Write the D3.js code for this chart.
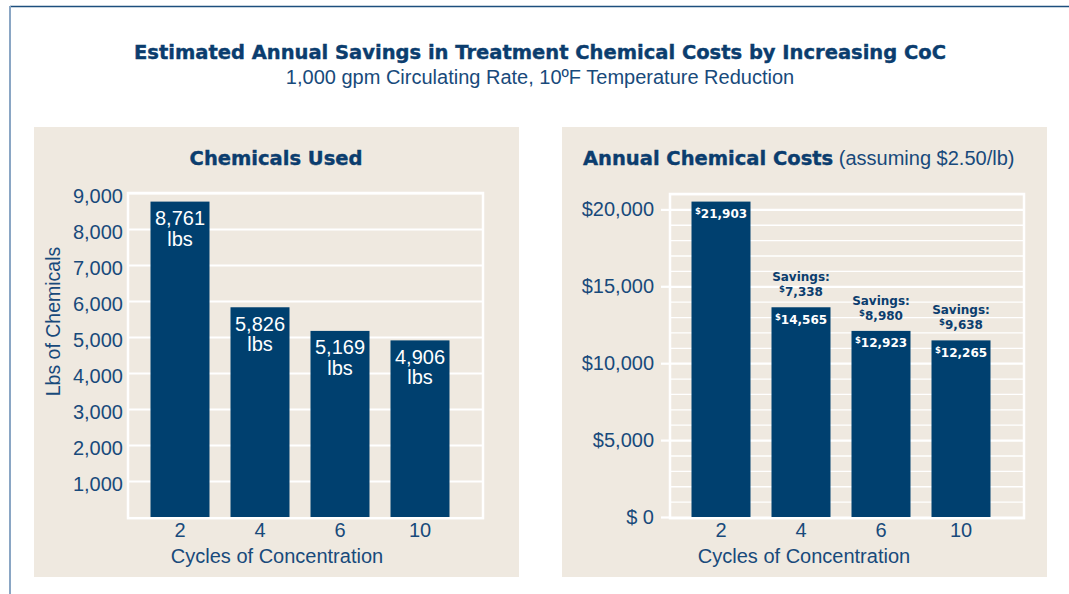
<!DOCTYPE html>
<html>
<head>
<meta charset="utf-8">
<script src="https://cdn.jsdelivr.net/npm/d3@7"></script>
<style>
    body { margin: 0; background: #ffffff; }
    svg { display: block; }
</style>
</head>
<body>
<div class="chartDiv"></div>
<script>
"use strict";

//
/* Data: */
//

var cycles = ["2", "4", "6", "10"];
var lbsUsed = [8761, 5826, 5169, 4906];
var annualCost = [21903, 14565, 12923, 12265];
var savings = [null, 7338, 8980, 9638];

var lbsTicks = [1000, 2000, 3000, 4000, 5000, 6000, 7000, 8000, 9000];
var costMajorTicks = [0, 5000, 10000, 15000, 20000];
var costMinorTicks = [1000, 2000, 3000, 4000, 6000, 7000, 8000, 9000, 11000, 12000, 13000, 14000, 16000, 17000, 18000, 19000, 21000];

var pricePerLb = 2.5;


//
/* Properties: */
//

var width = 1069;
var height = 594;

var navy = "#00406f";
var titleBlue = "#0b3d6e";
var textBlue = "#184a7b";
var panelColor = "#efe9e0";

var boldFont = "'DejaVu Sans', sans-serif";
var plainFont = "'Liberation Sans', Arial, sans-serif";

var plotTop = 193;
var plotBottom = 517;

var svg = d3.select(".chartDiv").append("svg")
                .attr("width", width)
                .attr("height", height);

// outer frame lines
svg.append("line")
    .attr("x1", 10).attr("x2", width).attr("y1", 6.5).attr("y2", 6.5)
    .attr("stroke", "#1d4f7e").attr("stroke-width", 1.5);
svg.append("line")
    .attr("x1", 10).attr("x2", 10).attr("y1", 6).attr("y2", height)
    .attr("stroke", "#8aa6c4").attr("stroke-width", 2);

// heading
svg.append("text")
    .attr("x", 540).attr("y", 58.5)
    .attr("text-anchor", "middle")
    .attr("font-family", boldFont).attr("font-weight", "bold").attr("font-size", 19.5)
    .attr("fill", titleBlue).attr("stroke", titleBlue).attr("stroke-width", 0.4)
    .text("Estimated Annual Savings in Treatment Chemical Costs by Increasing CoC");

svg.append("text")
    .attr("x", 540).attr("y", 83.5)
    .attr("text-anchor", "middle")
    .attr("font-family", plainFont).attr("font-size", 20)
    .attr("fill", textBlue)
    .text("1,000 gpm Circulating Rate, 10ºF Temperature Reduction");

// panels
svg.append("rect").attr("x", 34).attr("y", 127).attr("width", 485).attr("height", 450).attr("fill", panelColor);
svg.append("rect").attr("x", 562).attr("y", 127).attr("width", 485).attr("height", 450).attr("fill", panelColor);


//
/* Left chart: Chemicals Used */
//

var leftFrame = { x0: 128, x1: 483 };

var xLeft = d3.scaleBand()
                .domain(cycles)
                .range([140, 460])
                .paddingInner(0.2625)
                .paddingOuter(0.13125);

var yLbs = d3.scaleLinear()
                .domain([0, 9000])
                .range([plotBottom, plotTop]);

var gLeft = svg.append("g").attr("class", "leftChart");

var leftAxis = gLeft.append("g")
                .attr("transform", "translate(" + leftFrame.x0 + ",0)")
                .call(d3.axisLeft(yLbs)
                        .tickValues(lbsTicks)
                        .tickSize(-(leftFrame.x1 - leftFrame.x0))
                        .tickPadding(5)
                        .tickFormat(d3.format(",")));

leftAxis.select(".domain").remove();
leftAxis.selectAll(".tick line").attr("stroke", "#ffffff").attr("stroke-width", 2);
leftAxis.selectAll(".tick text")
    .attr("dy", "0.45em")
    .attr("fill", textBlue).attr("font-family", plainFont).attr("font-size", 20);

gLeft.append("rect")
    .attr("x", leftFrame.x0).attr("y", plotTop)
    .attr("width", leftFrame.x1 - leftFrame.x0).attr("height", plotBottom + 1.2 - plotTop)
    .attr("fill", "none").attr("stroke", "#ffffff").attr("stroke-width", 2.5);

gLeft.selectAll(".bar")
    .data(lbsUsed).enter()
    .append("rect")
    .attr("class", "bar")
    .attr("x", function(d, i) { return xLeft(cycles[i]); })
    .attr("y", function(d) { return yLbs(d); })
    .attr("width", xLeft.bandwidth())
    .attr("height", function(d) { return yLbs(0) - yLbs(d); })
    .attr("fill", navy);

var leftLabels = gLeft.selectAll(".barLabel")
    .data(lbsUsed).enter()
    .append("text")
    .attr("class", "barLabel")
    .attr("text-anchor", "middle")
    .attr("font-family", plainFont).attr("font-size", 20)
    .attr("fill", "#ffffff");

leftLabels.append("tspan")
    .attr("x", function(d, i) { return xLeft(cycles[i]) + xLeft.bandwidth() / 2; })
    .attr("y", function(d) { return yLbs(d) + 23.5; })
    .text(function(d) { return d3.format(",")(d); });

leftLabels.append("tspan")
    .attr("x", function(d, i) { return xLeft(cycles[i]) + xLeft.bandwidth() / 2; })
    .attr("y", function(d) { return yLbs(d) + 44; })
    .text("lbs");

var leftX = gLeft.append("g")
                .attr("transform", "translate(0," + plotBottom + ")")
                .call(d3.axisBottom(xLeft).tickSize(0).tickPadding(6));

leftX.select(".domain").remove();
leftX.selectAll(".tick text")
    .attr("fill", textBlue).attr("font-family", plainFont).attr("font-size", 20);

gLeft.append("text")
    .attr("x", 277).attr("y", 563)
    .attr("text-anchor", "middle")
    .attr("font-family", plainFont).attr("font-size", 20)
    .attr("fill", textBlue)
    .text("Cycles of Concentration");

gLeft.append("text")
    .attr("transform", "translate(59.5,321.5) rotate(-90)")
    .attr("text-anchor", "middle")
    .attr("font-family", plainFont).attr("font-size", 19.5)
    .attr("fill", textBlue)
    .text("Lbs of Chemicals");

gLeft.append("text")
    .attr("x", 276).attr("y", 164.5)
    .attr("text-anchor", "middle")
    .attr("font-family", boldFont).attr("font-weight", "bold").attr("font-size", 19.5)
    .attr("fill", titleBlue).attr("stroke", titleBlue).attr("stroke-width", 0.4)
    .text("Chemicals Used");


//
/* Right chart: Annual Chemical Costs */
//

var rightFrame = { x0: 670, x1: 1024, top: 194 };

var xRight = d3.scaleBand()
                .domain(cycles)
                .range([681, 1001])
                .paddingInner(0.2625)
                .paddingOuter(0.13125);

// axis scale for the dollar gridlines
var yCost = d3.scaleLinear()
                .domain([0, 21000])
                .range([plotBottom, rightFrame.top]);

// the bars share the pound chart's heights (lbs x $2.50)
var yCostBar = d3.scaleLinear()
                .domain([0, 9000 * pricePerLb])
                .range([plotBottom, plotTop]);

var gRight = svg.append("g").attr("class", "rightChart");
var plotW = rightFrame.x1 - rightFrame.x0;

var minorGrid = gRight.append("g")
                .attr("transform", "translate(" + rightFrame.x0 + ",0)")
                .call(d3.axisLeft(yCost).tickValues(costMinorTicks).tickSize(-plotW).tickFormat(""));
minorGrid.select(".domain").remove();
minorGrid.selectAll(".tick line").attr("stroke", "#ffffff").attr("stroke-width", 1.3);

var majorGrid = gRight.append("g")
                .attr("transform", "translate(" + rightFrame.x0 + ",0)")
                .call(d3.axisLeft(yCost).tickValues(costMajorTicks).tickSize(-plotW).tickFormat(""));
majorGrid.select(".domain").remove();
majorGrid.selectAll(".tick line").attr("stroke", "#ffffff").attr("stroke-width", 2.2);

var costAxis = gRight.append("g")
                .attr("transform", "translate(" + rightFrame.x0 + ",0)")
                .call(d3.axisLeft(yCost)
                        .tickValues(costMajorTicks)
                        .tickSize(9)
                        .tickPadding(7)
                        .tickFormat(function(d) { return d === 0 ? "$ 0" : "$" + d3.format(",")(d); }));
costAxis.select(".domain").remove();
costAxis.selectAll(".tick line").attr("stroke", "#ffffff").attr("stroke-width", 2.2);
costAxis.selectAll(".tick text")
    .attr("fill", textBlue).attr("font-family", plainFont).attr("font-size", 20);

gRight.append("rect")
    .attr("x", rightFrame.x0).attr("y", rightFrame.top)
    .attr("width", plotW).attr("height", plotBottom + 1.2 - rightFrame.top)
    .attr("fill", "none").attr("stroke", "#ffffff").attr("stroke-width", 2.5);

gRight.selectAll(".bar")
    .data(annualCost).enter()
    .append("rect")
    .attr("class", "bar")
    .attr("x", function(d, i) { return xRight(cycles[i]); })
    .attr("y", function(d) { return yCostBar(d); })
    .attr("width", xRight.bandwidth())
    .attr("height", function(d) { return yCostBar(0) - yCostBar(d); })
    .attr("fill", navy);

var dollarText = function(sel, value)
{
    sel.append("tspan").attr("font-size", 8.5).attr("dy", -4).text("$");
    sel.append("tspan").attr("font-size", 12).attr("dy", 4).text(d3.format(",")(value));
};

gRight.selectAll(".costLabel")
    .data(annualCost).enter()
    .append("text")
    .attr("class", "costLabel")
    .attr("x", function(d, i) { return xRight(cycles[i]) + xRight.bandwidth() / 2; })
    .attr("y", function(d) { return yCostBar(d) + 16.5; })
    .attr("text-anchor", "middle")
    .attr("font-family", boldFont).attr("font-weight", "bold")
    .attr("fill", "#ffffff")
    .each(function(d) { dollarText(d3.select(this), d); });

var savingsData = annualCost.map(function(d, i) { return { cost: d, saved: savings[i], cycle: cycles[i] }; })
                            .filter(function(d) { return d.saved !== null; });

var savingsLabels = gRight.selectAll(".savingsLabel")
    .data(savingsData).enter()
    .append("g")
    .attr("class", "savingsLabel")
    .attr("transform", function(d) { return "translate(" + (xRight(d.cycle) + xRight.bandwidth() / 2) + "," + yCostBar(d.cost) + ")"; });

savingsLabels.append("text")
    .attr("y", -26)
    .attr("text-anchor", "middle")
    .attr("font-family", boldFont).attr("font-weight", "bold").attr("font-size", 12)
    .attr("fill", titleBlue)
    .text("Savings:");

savingsLabels.append("text")
    .attr("y", -11)
    .attr("text-anchor", "middle")
    .attr("font-family", boldFont).attr("font-weight", "bold")
    .attr("fill", titleBlue)
    .each(function(d) { dollarText(d3.select(this), d.saved); });

var rightX = gRight.append("g")
                .attr("transform", "translate(0," + plotBottom + ")")
                .call(d3.axisBottom(xRight).tickSize(0).tickPadding(6));

rightX.select(".domain").remove();
rightX.selectAll(".tick text")
    .attr("fill", textBlue).attr("font-family", plainFont).attr("font-size", 20);

gRight.append("text")
    .attr("x", 804).attr("y", 563)
    .attr("text-anchor", "middle")
    .attr("font-family", plainFont).attr("font-size", 20)
    .attr("fill", textBlue)
    .text("Cycles of Concentration");

var rightTitle = gRight.append("text")
    .attr("x", 583).attr("y", 164.5)
    .attr("fill", titleBlue);

rightTitle.append("tspan")
    .attr("font-family", boldFont).attr("font-weight", "bold").attr("font-size", 19.5)
    .attr("stroke", titleBlue).attr("stroke-width", 0.4)
    .text("Annual Chemical Costs");

rightTitle.append("tspan")
    .attr("font-family", plainFont).attr("font-size", 20)
    .attr("fill", textBlue)
    .text(" (assuming $2.50/lb)");
</script>
</body>
</html>
